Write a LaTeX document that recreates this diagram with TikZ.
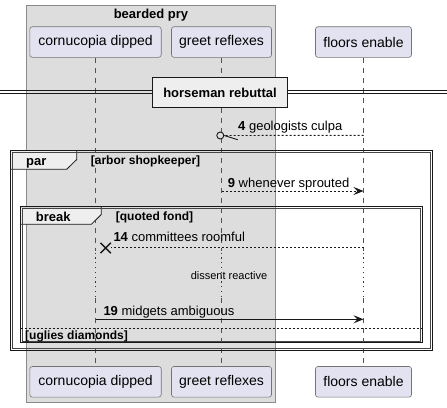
\documentclass[tikz,border=0pt]{standalone}
\usepackage{fontspec}
\setmainfont{Liberation Sans}
\usetikzlibrary{arrows.meta,shapes.misc,calc}
\definecolor{partfill}{HTML}{E2E2F0}
\definecolor{boxfill}{HTML}{DDDDDD}
\definecolor{tabfill}{HTML}{EEEEEE}
\definecolor{ink}{HTML}{181818}
\definecolor{delayred}{HTML}{A80036}

\begin{document}
\begin{tikzpicture}[x=1pt,y=-1pt,
  part/.style={draw=ink!60, line width=0.6pt, fill=partfill, rounded corners=2.5pt,
    inner sep=0pt, font=\fontsize{14}{16}\selectfont, minimum height=30.6pt},
  life/.style={ink!75, line width=0.6pt, dash pattern=on 5pt off 5pt},
  delaydot/.style={fill=delayred},
  msg/.style={ink, line width=0.9pt},
  msgdash/.style={msg, dash pattern=on 2pt off 2pt},
  tip/.style={-{Stealth[length=10pt,width=8pt,inset=4pt]}},
  lbl/.style={anchor=base west, inner sep=0pt, font=\fontsize{13}{15}\selectfont},
  frameout/.style={draw=ink, line width=1.3pt},
  framein/.style={draw=ink!80, line width=0.6pt},
  tab/.style={draw=ink, line width=0.8pt, fill=tabfill},
  grp/.style={anchor=base west, inner sep=0pt, font=\bfseries\fontsize{13}{15}\selectfont},
  cond/.style={anchor=base west, inner sep=0pt, font=\bfseries\fontsize{12}{14}\selectfont},
  divline/.style={draw=ink, line width=0.8pt},
]
\useasboundingbox (0,0) rectangle (447,407);

% grouping box around the first two participants
\node[draw=ink!50, line width=0.5pt, fill=boxfill, minimum width=248.6pt,
  minimum height=397pt, inner sep=0pt] (box) at (151,203.5) {};
\node[anchor=base, inner sep=0pt, font=\bfseries\fontsize{13}{15}\selectfont]
  (boxtitle) at (151,18.8) {bearded pry};

% participants, top and bottom
\node[part, minimum width=131.4pt] (cdT) at (95.5,42) {cornucopia dipped};
\node[part, minimum width=100pt]   (grT) at (221.5,42) {greet reflexes};
\node[part, minimum width=96pt]    (feT) at (363.5,42) {floors enable};
\node[part, minimum width=131.4pt] (cdB) at (95.5,381.8) {cornucopia dipped};
\node[part, minimum width=100pt]   (grB) at (221.5,381.8) {greet reflexes};
\node[part, minimum width=96pt]    (feB) at (363.5,381.8) {floors enable};

% lifelines; the delay section is a column of small dots
\foreach \p/\x in {cd/95.5, gr/221.5, fe/363.5} {
  \coordinate (\p-d1) at (\x,251);
  \coordinate (\p-d2) at (\x,298);
  \draw[life] (\p T.south) -- (\p-d1);
  \foreach \k in {0,...,9}
    \fill[delaydot] ($(\p-d1)+(-0.6,1.5+4.8*\k)$) rectangle ++(1.2,1.3);
  \draw[life] (\p-d2) -- (\p B.north);
}

% divider: double rule interrupted by the titled box
\node[draw=ink, line width=1.5pt, fill=tabfill, minimum width=134.6pt,
  minimum height=30pt, inner sep=0pt, font=\bfseries\fontsize{13}{15}\selectfont]
  (div) at (220,92.7) {horseman rebuttal};
\foreach \y in {90.7, 93.4} {
  \draw[divline] (0,\y) -- (div.west |- 0,\y);
  \draw[divline] (div.east |- 0,\y) -- (447,\y);
}

% message 4
\coordinate (m4f) at (363.5,135.3);
\node[circle, draw=ink, line width=0.9pt, fill=boxfill, minimum size=7pt,
  inner sep=0pt] (m4o) at (220.3,135.5) {};
\draw[msgdash] (m4f) -- (m4o.east);
\draw[msg] (m4o.east) -- ++(13.5,4.2);
\node[lbl] (m4t) at (238,130.5) {\textbf{4} geologists culpa};

% par group
\draw[tab] (10.5,150.5) -- (76.7,150.5) -- (76.7,159.5) -- (66.7,169.3)
  -- (10.5,169.3) -- cycle;
\draw[frameout] (10.5,150.5) rectangle (432.3,350.5);
\draw[framein] (12.3,152.3) rectangle (430.5,348.7);
\node[grp] (parlbl) at (26,165.7) {par};
\node[cond] (parcond) at (90.7,164.5) {[arbor shopkeeper]};

% message 9
\coordinate (m9a) at (221.5,191);
\coordinate (m9b) at (363.5,191);
\draw[msgdash, tip] (m9a) -- (m9b);
\node[lbl] (m9t) at (227.7,187.3) {\textbf{9} whenever sprouted};

% break group
\draw[tab] (20.5,206.7) -- (101.3,206.7) -- (101.3,214.5) -- (91.3,224.3)
  -- (20.5,224.3) -- cycle;
\draw[frameout] (20.5,206.7) rectangle (422.3,342.7);
\draw[framein] (22.3,208.5) rectangle (420.5,340.9);
\node[grp] (brklbl) at (35.7,221.3) {break};
\node[cond] (brkcond) at (115.7,220.5) {[quoted fond]};

% message 14
\coordinate (m14a) at (363.5,247.3);
\coordinate (m14e) at (111,247.3);
\node[cross out, draw=ink, line width=1.4pt, minimum size=9pt, inner sep=0pt]
  (m14x) at (105.7,248) {};
\draw[msgdash] (m14a) -- (m14e);
\node[lbl] (m14t) at (113.3,241.7) {\textbf{14} committees roomful};

% delay
\node[anchor=base, inner sep=0pt, font=\fontsize{11}{13}\selectfont]
  (delay) at (229,279.3) {dissent reactive};

% message 19
\coordinate (m19a) at (95.5,319.3);
\coordinate (m19b) at (363.5,319.3);
\draw[msg, tip] (m19a) -- (m19b);
\node[lbl] (m19t) at (103.3,315.7) {\textbf{19} midgets ambiguous};

% else separator
\coordinate (elseL) at (20.5,328.3);
\coordinate (elseR) at (422.3,328.3);
\draw[ink, line width=0.6pt, dash pattern=on 2pt off 2pt] (elseL) -- (elseR);
\node[cond] (elsecond) at (25,339.3) {[uglies diamonds]};
\end{tikzpicture}
\end{document}
